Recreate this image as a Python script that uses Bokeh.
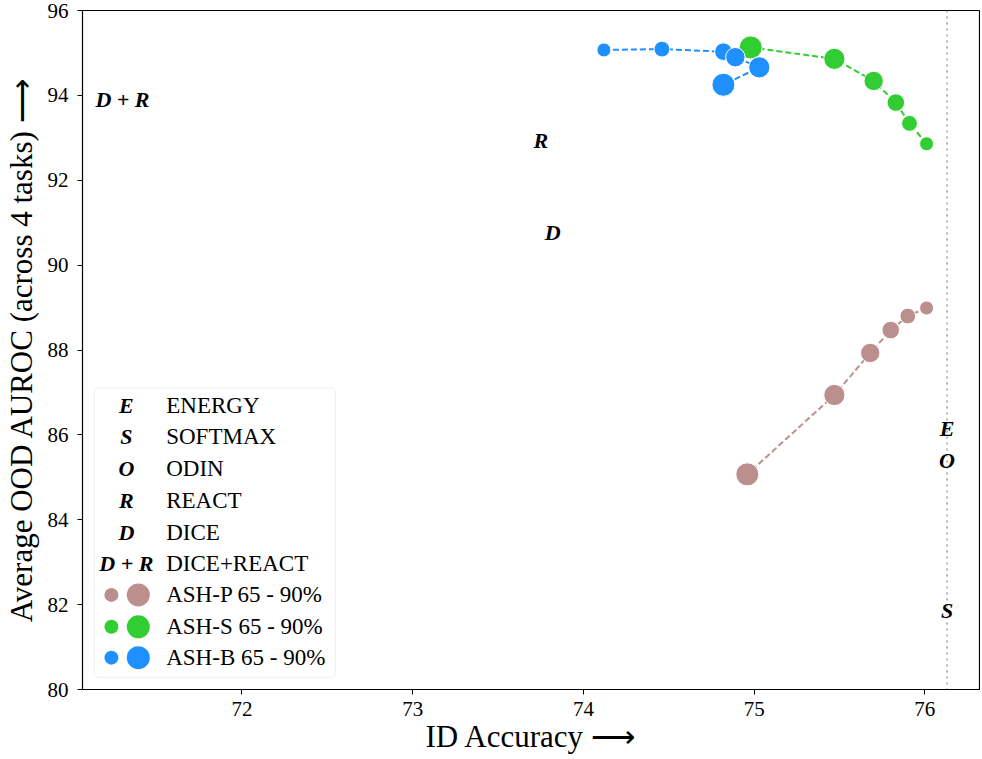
from bokeh.plotting import figure
from bokeh.models import Range1d, FixedTicker, BoxAnnotation, Span
from bokeh.core.properties import value
from bokeh.embed import file_html
from bokeh.resources import INLINE

# ---------------- data ----------------
prune_pct = [65, 70, 75, 80, 85, 90]

ashp_acc = [76.01, 75.90, 75.80, 75.68, 75.47, 74.96]
ashp_auroc = [88.99, 88.80, 88.47, 87.93, 86.94, 85.07]

ashs_acc = [76.01, 75.91, 75.83, 75.70, 75.47, 74.98]
ashs_auroc = [92.86, 93.34, 93.83, 94.34, 94.86, 95.13]

ashb_acc = [74.12, 74.46, 74.82, 74.89, 75.03, 74.82]
ashb_auroc = [95.07, 95.09, 95.03, 94.90, 94.66, 94.25]

base_symbols = ["E", "S", "O", "R", "D", "D + R"]
base_names = ["ENERGY", "SOFTMAX", "ODIN", "REACT", "DICE", "DICE+REACT"]
base_acc = [76.13, 76.13, 76.13, 73.75, 73.82, 71.30]
base_auroc = [86.15, 81.85, 85.40, 92.93, 90.77, 93.90]

ash_names = ["ASH-P 65 - 90%", "ASH-S 65 - 90%", "ASH-B 65 - 90%"]
ash_colors = ["rosybrown", "limegreen", "dodgerblue"]

baseline_id_acc = 76.13

x_ticks = [72, 73, 74, 75, 76]
y_ticks = [80, 82, 84, 86, 88, 90, 92, 94, 96]

# ---------------- figure ----------------
X0, X1 = 71.066, 76.32
Y0, Y1 = 80.0, 96.0

SERIF = "Liberation Serif"

p = figure(width=980, height=756,
           x_range=Range1d(X0, X1), y_range=Range1d(Y0, Y1),
           output_backend="svg", toolbar_location=None,
           min_border_left=82, min_border_right=1,
           min_border_top=10, min_border_bottom=64)
p.grid.visible = False
p.outline_line_color = "black"
p.outline_line_width = 1.2
p.background_fill_color = "white"

p.xaxis.ticker = FixedTicker(ticks=x_ticks)
p.yaxis.ticker = FixedTicker(ticks=y_ticks)
p.xaxis.axis_label = "ID Accuracy \u27f6"
p.yaxis.axis_label = "Average OOD AUROC (across 4 tasks) \u27f6"
for ax in (p.xaxis, p.yaxis):
    ax.axis_label_text_font = SERIF
    ax.axis_label_text_font_style = "normal"
    ax.axis_label_text_font_size = "31px"
    ax.axis_label_text_color = "black"
    ax.major_label_text_font = SERIF
    ax.major_label_text_font_size = "21px"
    ax.major_label_text_color = "black"
    ax.minor_tick_line_color = None
    ax.major_tick_out = 5
    ax.major_tick_in = 0
    ax.major_tick_line_color = "black"
    ax.axis_line_color = "black"
p.xaxis.major_label_standoff = 7
p.xaxis.axis_label_standoff = 0
p.yaxis.major_label_standoff = 9
p.yaxis.axis_label_standoff = 6

# vertical dotted baseline
p.add_layout(Span(location=baseline_id_acc, dimension="height",
                  line_color="#b5b5b5", line_width=2, line_dash="dotted",
                  level="underlay"))


def size_of(pct):
    return 14 + (pct - 65) * 9.0 / 25.0


sizes = [size_of(v) for v in prune_pct]

for acc, auroc, col in [(ashp_acc, ashp_auroc, ash_colors[0]),
                        (ashs_acc, ashs_auroc, ash_colors[1]),
                        (ashb_acc, ashb_auroc, ash_colors[2])]:
    p.line(acc, auroc, line_color=col, line_width=2, line_dash="6 3")
    p.scatter(acc, auroc, size=sizes, fill_color=col, line_color="white",
              line_width=1)

# baseline text markers
p.text(x=base_acc, y=base_auroc, text=base_symbols,
       text_font=value(SERIF), text_font_style="bold italic",
       text_font_size="22px", text_align="center", text_baseline="middle",
       text_color="black")

# ---------------- manual legend ----------------
def fx(f):
    return X0 + f * (X1 - X0)


def fy(f):
    return Y1 - f * (Y1 - Y0)


p.add_layout(BoxAnnotation(left=fx(0.0133), right=fx(0.282),
                           top=fy(0.556), bottom=fy(0.982),
                           fill_color="white", fill_alpha=0.85,
                           line_color="#d0d0d0", line_width=1.2,
                           border_radius=4, level="underlay"))

row_fracs = [(yp - 12) / 682.0 for yp in
             [409, 440, 472, 504, 536, 567, 599, 631, 662]]
sym_x = fx((125 - 81) / 900.0)
small_x = fx((110 - 81) / 900.0)
big_x = fx((137 - 81) / 900.0)
lab_x = fx((165 - 81) / 900.0)

p.text(x=[sym_x] * len(base_symbols), y=[fy(f) for f in row_fracs[:6]],
       text=base_symbols, text_font=value(SERIF),
       text_font_style="bold italic", text_font_size="22px",
       text_align="center", text_baseline="middle", text_color="black")

ash_rows = [fy(f) for f in row_fracs[6:]]
p.scatter([small_x] * 3, ash_rows, size=size_of(prune_pct[0]),
          fill_color=ash_colors, line_color=None)
p.scatter([big_x] * 3, ash_rows, size=size_of(prune_pct[-1]),
          fill_color=ash_colors, line_color=None)

p.text(x=[lab_x] * 9, y=[fy(f) for f in row_fracs],
       text=base_names + ash_names, text_font=value(SERIF),
       text_font_size="23px", text_align="left", text_baseline="middle",
       text_color="black")

open("out.html", "w").write(file_html(p, INLINE))
